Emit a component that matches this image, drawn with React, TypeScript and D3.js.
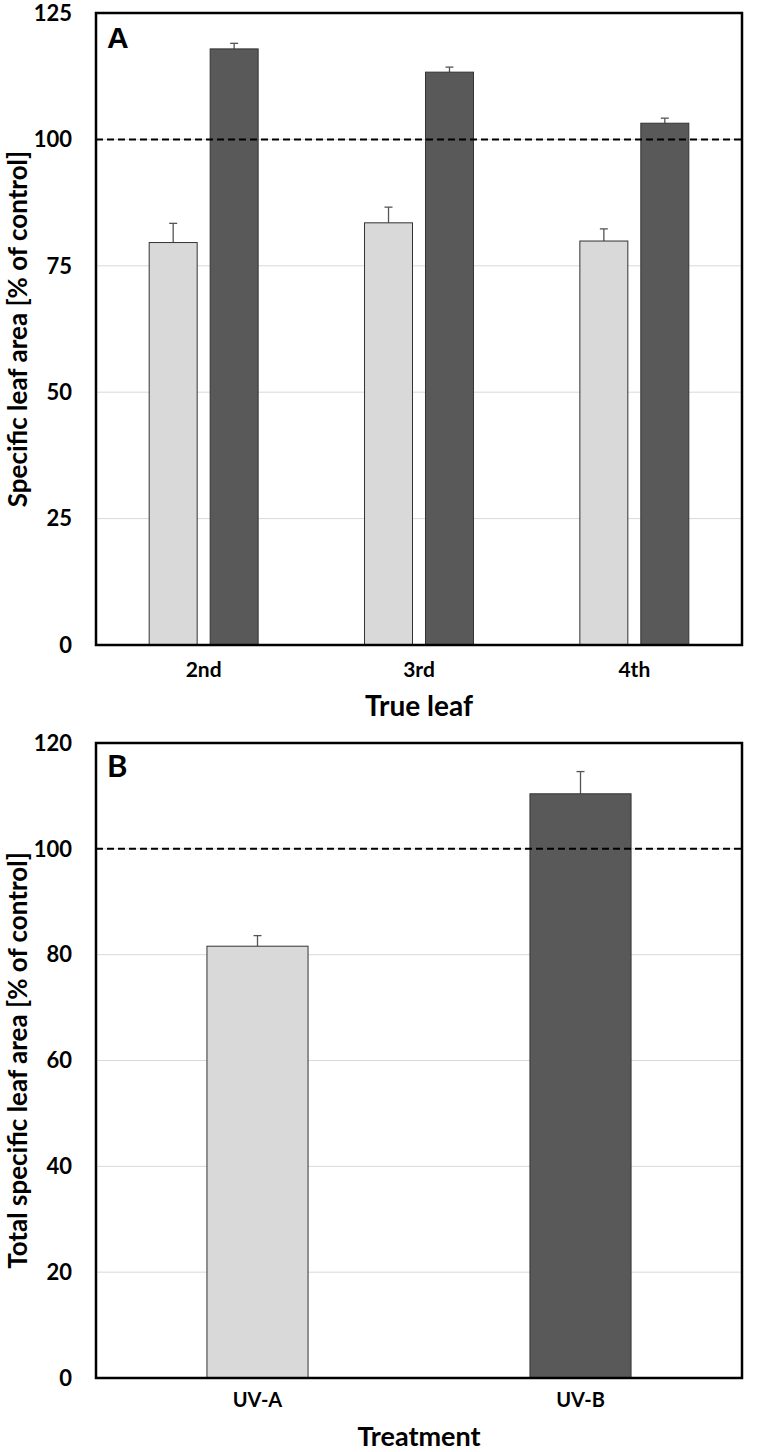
import React from 'react';
import * as d3 from 'd3';

// panel A: specific leaf area per true leaf
const leafCategories = ['2nd', '3rd', '4th'];
const uvaLeaf = [79.6, 83.5, 79.9];
const uvaLeafErr = [3.8, 3.1, 2.4];
const uvbLeaf = [117.9, 113.3, 103.2];
const uvbLeafErr = [1.1, 1.0, 1.0];
const ticksA = [0, 25, 50, 75, 100, 125];

// panel B: total specific leaf area per treatment
const treatments = ['UV-A', 'UV-B'];
const totalSla = [81.6, 110.4];
const totalSlaErr = [2.0, 4.2];
const ticksB = [0, 20, 40, 60, 80, 100, 120];

const controlLevel = 100;
const seriesKeys = ['UV-A', 'UV-B'];
const fills: Record<string, string> = { 'UV-A': '#d9d9d9', 'UV-B': '#595959' };

const FONT = 'Lato, "Open Sans", sans-serif';
const W = 760;
const H = 1452;
const left = 96;
const right = 742;

const Frame = ({ top, bottom }: { top: number; bottom: number }) => (
  <rect x={left} y={top} width={right - left} height={bottom - top}
    fill="none" stroke="#000" strokeWidth={2.5} />
);

const ErrorBar = ({ x, y0, y1 }: { x: number; y0: number; y1: number }) => (
  <g stroke="#555" strokeWidth={1.3}>
    <line x1={x} x2={x} y1={y0} y2={y1} />
    <line x1={x - 4} x2={x + 4} y1={y1} y2={y1} />
  </g>
);

const YAxis = ({ y, ticks }: { y: d3.ScaleLinear<number, number>; ticks: number[] }) => (
  <g>
    {ticks.map(t => (
      <g key={t}>
        {t > 0 && t < ticks[ticks.length - 1] && (
          <line x1={left} x2={right} y1={y(t)} y2={y(t)} stroke="#d9d9d9" strokeWidth={1} />
        )}
        <text x={left - 24} y={y(t)} dy="0.35em" textAnchor="end"
          fontFamily={FONT} fontWeight="bold" fontSize={22}>{t}</text>
      </g>
    ))}
  </g>
);

const PanelA = () => {
  const top = 13;
  const bottom = 645;
  const y = d3.scaleLinear().domain([0, 125]).range([bottom, top]);
  const x0 = d3.scaleBand().domain(leafCategories).range([left, right]).padding(0);
  const groupW = x0.bandwidth() * 0.506;
  const x1 = d3.scaleBand().domain(seriesKeys).range([0, groupW]).paddingInner(0.213).paddingOuter(0);
  const rows = leafCategories.map((c, i) => ({
    c,
    vals: [
      { k: 'UV-A', v: uvaLeaf[i], e: uvaLeafErr[i] },
      { k: 'UV-B', v: uvbLeaf[i], e: uvbLeafErr[i] },
    ],
  }));
  return (
    <g>
      <YAxis y={y} ticks={ticksA} />
      {rows.map(r => {
        const gx = (x0(r.c) as number) + (x0.bandwidth() - groupW) / 2;
        return (
          <g key={r.c}>
            {r.vals.map(d => {
              const bx = gx + (x1(d.k) as number);
              const cx = bx + x1.bandwidth() / 2;
              return (
                <g key={d.k}>
                  <ErrorBar x={cx} y0={y(d.v)} y1={y(d.v + d.e)} />
                  <rect x={bx} y={y(d.v)} width={x1.bandwidth()} height={y(0) - y(d.v)}
                    fill={fills[d.k]} stroke="#333" strokeWidth={1} />
                </g>
              );
            })}
            <text x={(x0(r.c) as number) + x0.bandwidth() / 2} y={bottom + 25} dy="0.35em"
              textAnchor="middle" fontFamily={FONT} fontWeight="bold" fontSize={21}>{r.c}</text>
          </g>
        );
      })}
      <line x1={left} x2={right} y1={y(controlLevel)} y2={y(controlLevel)}
        stroke="#000" strokeWidth={2} strokeDasharray="7,4" />
      <Frame top={top} bottom={bottom} />
      <text x={107} y={top + 35} fontFamily="Liberation Sans, Arial, sans-serif" fontWeight="bold" fontSize={30}>A</text>
      <text x={(left + right) / 2} y={bottom + 61} dy="0.35em" textAnchor="middle"
        fontFamily={FONT} fontWeight="bold" fontSize={28}>True leaf</text>
      <text transform={`translate(18,${(top + bottom) / 2}) rotate(-90)`} dy="0.35em" textAnchor="middle"
        fontFamily={FONT} fontWeight="bold" fontSize={26}>Specific leaf area [% of control]</text>
    </g>
  );
};

const PanelB = () => {
  const top = 743;
  const bottom = 1378;
  const y = d3.scaleLinear().domain([0, 120]).range([bottom, top]);
  const x = d3.scaleBand().domain(treatments).range([left, right]).padding(0);
  const barW = x.bandwidth() * 0.313;
  return (
    <g>
      <YAxis y={y} ticks={ticksB} />
      {treatments.map((t, i) => {
        const cx = (x(t) as number) + x.bandwidth() / 2;
        return (
          <g key={t}>
            <ErrorBar x={cx} y0={y(totalSla[i])} y1={y(totalSla[i] + totalSlaErr[i])} />
            <rect x={cx - barW / 2} y={y(totalSla[i])} width={barW} height={y(0) - y(totalSla[i])}
              fill={fills[t]} stroke="#333" strokeWidth={1} />
            <text x={cx} y={bottom + 22} dy="0.35em" textAnchor="middle"
              fontFamily={FONT} fontWeight="bold" fontSize={20}>{t}</text>
          </g>
        );
      })}
      <line x1={left} x2={right} y1={y(controlLevel)} y2={y(controlLevel)}
        stroke="#000" strokeWidth={2} strokeDasharray="7,4" />
      <Frame top={top} bottom={bottom} />
      <text x={107} y={top + 34} fontFamily={FONT} fontWeight="bold" fontSize={31}>B</text>
      <text x={(left + right) / 2} y={bottom + 59} dy="0.35em" textAnchor="middle"
        fontFamily={FONT} fontWeight="bold" fontSize={27}>Treatment</text>
      <text transform={`translate(18,${(top + bottom) / 2}) rotate(-90)`} dy="0.35em" textAnchor="middle"
        fontFamily={FONT} fontWeight="bold" fontSize={26}>Total specific leaf area [% of control]</text>
    </g>
  );
};

export default function App() {
  return (
    <svg width={W} height={H} style={{ position: 'absolute', left: 0, top: 0, background: '#fff' }}>
      <PanelA />
      <PanelB />
    </svg>
  );
}
